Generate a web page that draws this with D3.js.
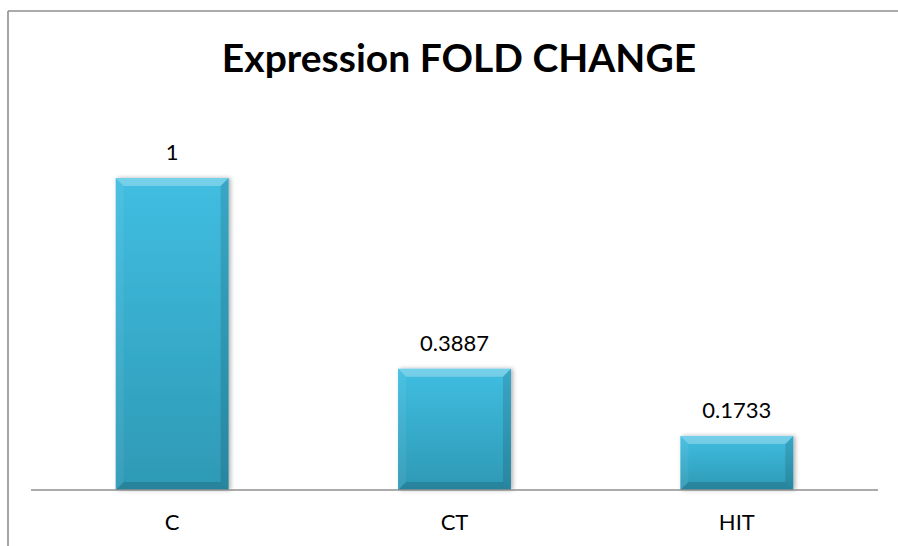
<!DOCTYPE html>
<html>
<head>
<meta charset="utf-8">
<script src="https://cdn.jsdelivr.net/npm/d3@7"></script>
<style>
  body { margin: 0; background: #fff; }
  svg { display: block; font-family: Lato, "Open Sans", sans-serif; }
</style>
</head>
<body>
<svg id="chart" width="898" height="546"></svg>
<script>
const categories = ["C", "CT", "HIT"]
const values = [1, 0.3887, 0.1733]
const valueLabels = ["1", "0.3887", "0.1733"]
const yMax = 1.2

const svg = d3.select("#chart")
const margin = {left: 31, right: 20, top: 115.6, bottom: 56}
const W = 898, H = 546

// chart frame (only top/left visible)
svg.append("line").attr("x1", 8).attr("x2", W).attr("y1", 11).attr("y2", 11)
    .attr("stroke", "#8f8f8f").attr("stroke-width", 1.6)
svg.append("line").attr("x1", 8).attr("x2", 8).attr("y1", 11).attr("y2", H)
    .attr("stroke", "#8f8f8f").attr("stroke-width", 1.6)

svg.append("text")
    .attr("x", 459).attr("y", 72)
    .attr("text-anchor", "middle")
    .attr("font-size", 39).attr("font-weight", "bold")
    .attr("fill", "#000")
    .text("Expression FOLD CHANGE")

let x = d3.scaleBand()
    .domain(categories)
    .range([margin.left, W - margin.right])
    .paddingInner(0.6).paddingOuter(0.3)

let y = d3.scaleLinear()
    .domain([0, yMax])
    .range([H - margin.bottom, margin.top])

const defs = svg.append("defs")
const grad = defs.append("linearGradient").attr("id", "barGrad")
    .attr("x1", 0).attr("x2", 0).attr("y1", 0).attr("y2", 1)
grad.append("stop").attr("offset", "0%").attr("stop-color", "#40bee1")
grad.append("stop").attr("offset", "100%").attr("stop-color", "#2e99b5")

const shadow = defs.append("filter").attr("id", "shadow")
    .attr("x", "-10%").attr("y", "-10%").attr("width", "125%").attr("height", "120%")
shadow.append("feDropShadow").attr("dx", 2).attr("dy", 0).attr("stdDeviation", 2)
    .attr("flood-color", "#000").attr("flood-opacity", 0.3)

const data = categories.map((c, i) => ({cat: c, value: values[i], label: valueLabels[i]}))

let bars = svg.selectAll("g.bar")
    .data(data)
    .join("g")
    .attr("class", "bar")

bars.append("rect")
    .attr("x", d => x(d.cat))
    .attr("y", d => y(d.value))
    .attr("width", x.bandwidth())
    .attr("height", d => y(0) - y(d.value))
    .attr("fill", "url(#barGrad)")
    .attr("filter", "url(#shadow)")

// bevel edges
const bev = 8
function bevel(d, side){
    let x0 = x(d.cat), x1 = x0 + x.bandwidth()
    let y0 = y(d.value), y1 = y(0)
    let b = Math.min(bev, (y1 - y0) / 2)
    if(side == "top") return [[x0, y0], [x1, y0], [x1 - b, y0 + b], [x0 + b, y0 + b]]
    if(side == "right") return [[x1, y0], [x1, y1], [x1 - b, y1 - b], [x1 - b, y0 + b]]
    if(side == "bottom") return [[x0, y1], [x1, y1], [x1 - b, y1 - b], [x0 + b, y1 - b]]
    return [[x0, y0], [x0 + b, y0 + b], [x0 + b, y1 - b], [x0, y1]]
}
const bevelStyle = {
    top: ["#ffffff", 0.28],
    left: ["#ffffff", 0.06],
    right: ["#000000", 0.12],
    bottom: ["#000000", 0.14]
}
for (const side of ["top", "left", "right", "bottom"]){
    bars.append("polygon")
        .attr("points", d => bevel(d, side).map(p => p.join(",")).join(" "))
        .attr("fill", bevelStyle[side][0])
        .attr("fill-opacity", bevelStyle[side][1])
}

bars.append("text")
    .attr("x", d => x(d.cat) + x.bandwidth() / 2)
    .attr("y", d => y(d.value) - 18)
    .attr("text-anchor", "middle")
    .attr("font-size", 22)
    .attr("fill", "#000")
    .text(d => d.label)

// category axis
let xAxis = svg.append("g")
    .attr("transform", `translate(0,${y(0)})`)
    .call(d3.axisBottom(x).tickSize(0).tickPadding(24).tickSizeOuter(0))
xAxis.select(".domain").attr("stroke", "#8f8f8f").attr("stroke-width", 1.6)
    .attr("d", `M${margin.left},0H${W - margin.right}`)
xAxis.selectAll("text")
    .attr("font-size", 22)
    .attr("font-family", "Lato, 'Open Sans', sans-serif")
    .attr("fill", "#000")
</script>
</body>
</html>
